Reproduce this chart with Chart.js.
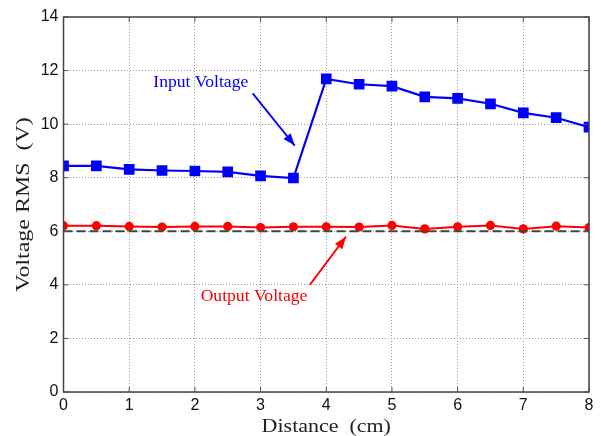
<!DOCTYPE html>
<html>
<head>
<meta charset="utf-8">
<script src="https://cdn.jsdelivr.net/npm/chart.js@4.4.1/dist/chart.umd.min.js"></script>
<style>
  html, body { margin: 0; padding: 0; background: #fff; }
  #wrap { width: 601px; height: 436px; }
</style>
</head>
<body>
<div id="wrap"><canvas id="voltChart" width="601" height="436"></canvas></div>
<script>
// distance positions (cm)
const distance = [0, 0.5, 1, 1.5, 2, 2.5, 3, 3.5, 4, 4.5, 5, 5.5, 6, 6.5, 7, 7.5, 8];
const inputVoltage = [8.44, 8.44, 8.31, 8.27, 8.25, 8.22, 8.07, 7.99, 11.69, 11.49, 11.42, 11.02, 10.96, 10.76, 10.42, 10.24, 9.89];
const outputVoltage = [6.21, 6.21, 6.18, 6.16, 6.18, 6.18, 6.14, 6.17, 6.17, 6.16, 6.22, 6.09, 6.17, 6.22, 6.09, 6.19, 6.14];
const referenceLevel = 6;
const xTicks = [0, 1, 2, 3, 4, 5, 6, 7, 8];
const yTicks = [0, 2, 4, 6, 8, 10, 12, 14];
const xTitle = 'Distance  (cm)';
const yTitle = 'Voltage RMS  (V)';

// annotation labels, in data coords
const notes = [
  { text: 'Input Voltage', color: '#0000ff', at: [2.09, 11.53], from: [2.88, 11.15], to: [3.52, 9.2] },
  { text: 'Output Voltage', color: '#ff0000', at: [2.9, 3.54], from: [3.75, 4.0], to: [4.3, 5.8] }
];

const serif = '"Liberation Serif", "Times New Roman", serif';
const toPts = (xs, ys) => xs.map((x, i) => ({ x: x, y: ys[i] }));

// text stretched a bit wider, like the original figure
function wideText(ctx, txt, x, y, stretch) {
  ctx.save();
  ctx.translate(x, y);
  ctx.scale(stretch, 1);
  ctx.fillText(txt, 0, 0);
  ctx.restore();
}

// box, inner ticks, axis titles, arrows & labels
const extras = {
  id: 'extras',
  afterDraw(chart) {
    const { ctx, chartArea: a, scales: { x, y } } = chart;
    ctx.save();
    ctx.strokeStyle = '#555';
    ctx.lineWidth = 1;
    xTicks.forEach(v => {
      const px = x.getPixelForValue(v);
      ctx.beginPath();
      ctx.moveTo(px, a.bottom); ctx.lineTo(px, a.bottom - 5);
      ctx.moveTo(px, a.top); ctx.lineTo(px, a.top + 5);
      ctx.stroke();
    });
    yTicks.forEach(v => {
      const py = y.getPixelForValue(v);
      ctx.beginPath();
      ctx.moveTo(a.left, py); ctx.lineTo(a.left + 5, py);
      ctx.moveTo(a.right, py); ctx.lineTo(a.right - 5, py);
      ctx.stroke();
    });
    ctx.strokeStyle = '#444';
    ctx.lineWidth = 1.5;
    ctx.strokeRect(a.left, a.top, a.right - a.left, a.bottom - a.top);

    // axis titles
    ctx.fillStyle = '#222';
    ctx.font = '18px ' + serif;
    ctx.textAlign = 'center';
    ctx.textBaseline = 'alphabetic';
    wideText(ctx, xTitle, (a.left + a.right) / 2, 432, 1.22);
    ctx.save();
    ctx.translate(29, (a.top + a.bottom) / 2);
    ctx.rotate(-Math.PI / 2);
    wideText(ctx, yTitle, 0, 0, 1.33);
    ctx.restore();

    notes.forEach(n => {
      ctx.fillStyle = n.color;
      ctx.strokeStyle = n.color;
      ctx.font = '16px ' + serif;
      ctx.textAlign = 'center';
      ctx.textBaseline = 'middle';
      wideText(ctx, n.text, x.getPixelForValue(n.at[0]), y.getPixelForValue(n.at[1]), 1.1);

      const x1 = x.getPixelForValue(n.from[0]), y1 = y.getPixelForValue(n.from[1]);
      const x2 = x.getPixelForValue(n.to[0]), y2 = y.getPixelForValue(n.to[1]);
      ctx.lineWidth = 1.8;
      ctx.beginPath();
      ctx.moveTo(x1, y1);
      ctx.lineTo(x2, y2);
      ctx.stroke();
      const ang = Math.atan2(y2 - y1, x2 - x1);
      const len = 13, w = 0.36;
      ctx.beginPath();
      ctx.moveTo(x2, y2);
      ctx.lineTo(x2 - len * Math.cos(ang - w), y2 - len * Math.sin(ang - w));
      ctx.lineTo(x2 - len * Math.cos(ang + w), y2 - len * Math.sin(ang + w));
      ctx.closePath();
      ctx.fill();
    });
    ctx.restore();
  }
};

const gridOpts = { color: '#999', lineWidth: 1, drawTicks: false };
const tickFont = { family: '"Liberation Sans", Arial, sans-serif', size: 16 };

new Chart(document.getElementById('voltChart'), {
  type: 'line',
  data: {
    datasets: [
      {
        label: 'Reference',
        data: [{ x: distance[0], y: referenceLevel }, { x: distance[distance.length - 1], y: referenceLevel }],
        borderColor: '#444',
        borderWidth: 2,
        borderDash: [9, 4],
        pointRadius: 0
      },
      {
        label: 'Output Voltage',
        data: toPts(distance, outputVoltage),
        borderColor: '#ff0000',
        backgroundColor: '#ff0000',
        borderWidth: 2,
        pointStyle: 'circle',
        pointRadius: 3.6,
        tension: 0
      },
      {
        label: 'Input Voltage',
        data: toPts(distance, inputVoltage),
        borderColor: '#0000ff',
        backgroundColor: '#0000ff',
        borderWidth: 2.2,
        pointStyle: 'rect',
        pointRadius: 6,
        tension: 0
      }
    ]
  },
  options: {
    responsive: false,
    animation: false,
    events: [],
    layout: { padding: { left: 0, right: 12, top: 17, bottom: 0 } },
    plugins: { legend: { display: false }, tooltip: { enabled: false } },
    scales: {
      x: {
        type: 'linear',
        min: 0,
        max: 8,
        afterBuildTicks: s => { s.ticks = xTicks.map(v => ({ value: v })); },
        afterFit: s => { s.height = 44; },
        border: { display: false, dash: [1, 2] },
        grid: gridOpts,
        ticks: { padding: 4, color: '#111', font: tickFont }
      },
      y: {
        min: 0,
        max: 14,
        afterBuildTicks: s => { s.ticks = yTicks.map(v => ({ value: v })); },
        afterFit: s => { s.width = 63.5; },
        border: { display: false, dash: [1, 2] },
        grid: gridOpts,
        ticks: { padding: 5, color: '#111', font: tickFont }
      }
    }
  },
  plugins: [extras]
});
</script>
</body>
</html>
